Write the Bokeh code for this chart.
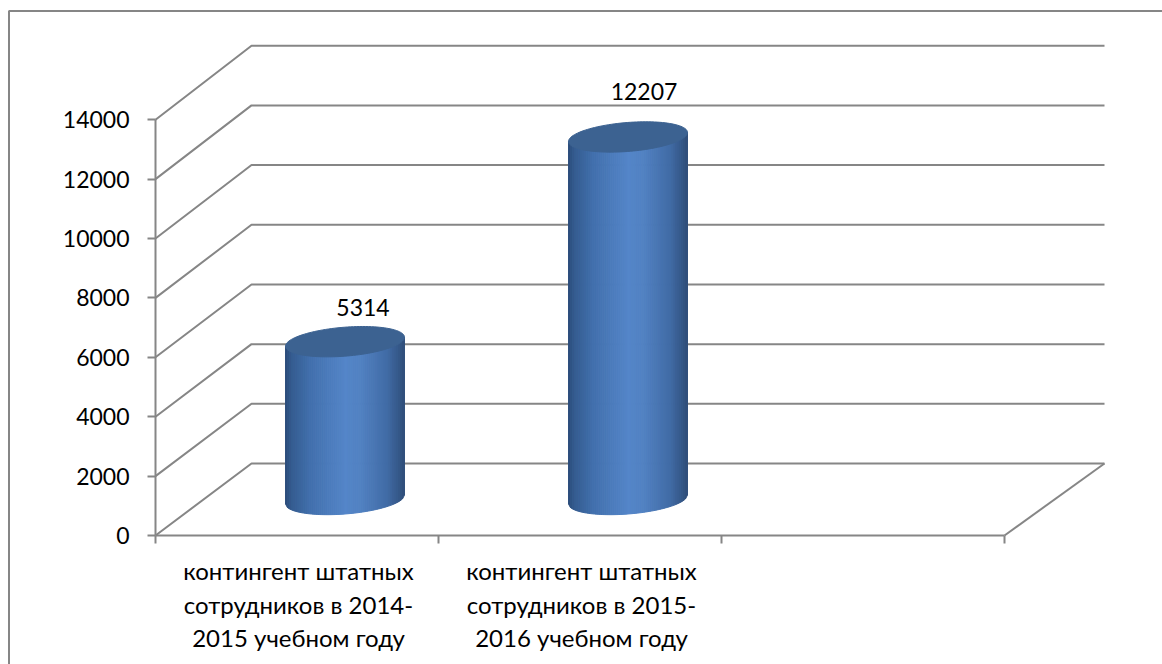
import numpy as np
from bokeh.plotting import figure
from bokeh.models import LinearAxis, FixedTicker, Range1d
from bokeh.core.properties import value
from bokeh.embed import file_html
from bokeh.resources import INLINE

# ---- data ----
categories = ["контингент штатных\nсотрудников в 2014-\n2015 учебном году",
              "контингент штатных\nсотрудников в 2015-\n2016 учебном году"]
values = [5314, 12207]
y_ticks = [0, 2000, 4000, 6000, 8000, 10000, 12000, 14000]
x_slots = [0, 1, 2, 3]

# ---- layout / style ----
W, H = 1162, 664
PX_PER_SLOT = 283.0
PX_PER_VAL = 0.0297
X0_PX, Y0_PX = 155.0, 535.0     # chart origin on the page
DEPTH_X = 96 / PX_PER_SLOT
DEPTH_Y = 72 / PX_PER_VAL
RIGHT_DEPTH_X = 100 / PX_PER_SLOT   # the right-hand edge recedes slightly further
BACK_SCALE = 418 / 416              # back wall is drawn slightly taller than the axis
RX = 59.5 / PX_PER_SLOT
RY = 14.5 / PX_PER_VAL
SHEAR = 4.5 / PX_PER_VAL        # rise from left to right of an ellipse, half
GRAY = "#868686"
FONT = "Lato"
FS = "23px"
FS_CAT = "24px"
TOP_COLOR = "#3c6291"
STOPS_F = [0.0, 0.04, 0.2, 0.5, 0.62, 0.85, 0.96, 1.0]
STOPS_C = [(0x2e, 0x4f, 0x7d), (0x35, 0x5c, 0x90), (0x42, 0x70, 0xad), (0x55, 0x86, 0xc9),
           (0x52, 0x82, 0xc3), (0x41, 0x6c, 0xa6), (0x34, 0x56, 0x85), (0x2f, 0x4c, 0x76)]
N_STRIPS = 60


def px_x(px):
    return (px - X0_PX) / PX_PER_SLOT


def px_y(py):
    return (Y0_PX - py) / PX_PER_VAL


p = figure(width=W, height=H, output_backend="svg", toolbar_location=None,
           x_axis_location=None, y_axis_location=None, min_border=0,
           x_range=Range1d(px_x(0), px_x(W)), y_range=Range1d(px_y(H), px_y(0)),
           background_fill_color="white", border_fill_color="white")
p.outline_line_color = None
p.grid.visible = False

# chart-area border (top and left)
p.line([px_x(8.5), px_x(8.5), px_x(W)], [px_y(H), px_y(10.5), px_y(10.5)],
       line_color=GRAY, line_width=2)

# walls: one bent gridline per tick
for t in y_ticks:
    b = t * BACK_SCALE + DEPTH_Y
    p.line([0, DEPTH_X, x_slots[-1] + RIGHT_DEPTH_X], [t, b, b], line_color=GRAY, line_width=2)
p.line([x_slots[-1], x_slots[-1] + RIGHT_DEPTH_X], [0, DEPTH_Y], line_color=GRAY, line_width=2)

# cylinders
ff = np.linspace(0, 1, N_STRIPS + 1)
cr = np.interp(ff, STOPS_F, [c[0] for c in STOPS_C])
cg = np.interp(ff, STOPS_F, [c[1] for c in STOPS_C])
cb = np.interp(ff, STOPS_F, [c[2] for c in STOPS_C])


def lower_arc(cx, cy, x):
    c = np.clip((x - cx) / RX, -1, 1)
    return cy + SHEAR * c - RY * np.sqrt(1 - c * c)


for i, v in enumerate(values):
    cx = i + 0.5 + DEPTH_X / 2
    base = DEPTH_Y / 2
    top = v + DEPTH_Y / 2
    xs = cx - RX + 2 * RX * ff
    sx, sy, col = [], [], []
    for k in range(N_STRIPS):
        xa, xb = xs[k], xs[k + 1]
        sx.append([xa, xb, xb, xa])
        sy.append([lower_arc(cx, base, xa), lower_arc(cx, base, xb),
                   top + SHEAR * ((xb - cx) / RX), top + SHEAR * ((xa - cx) / RX)])
        col.append("#%02x%02x%02x" % (int(cr[k]), int(cg[k]), int(cb[k])))
    p.patches(sx, sy, fill_color=col, line_color=col, line_width=1)
    t = np.linspace(0, 2 * np.pi, 120)
    p.patch(cx + RX * np.cos(t), top + SHEAR * np.cos(t) + RY * np.sin(t),
            fill_color=TOP_COLOR, line_color=TOP_COLOR, line_width=1)

# value labels
LABEL_DX = [18 / PX_PER_SLOT, 16 / PX_PER_SLOT]
LABEL_DY = [34 / PX_PER_VAL, 45 / PX_PER_VAL]
for i, v in enumerate(values):
    p.text([i + 0.5 + DEPTH_X / 2 + LABEL_DX[i]], [v + DEPTH_Y / 2 + LABEL_DY[i]], text=[str(v)],
           text_font=value(FONT), text_font_size=FS, text_color="black",
           text_align="center", text_baseline="middle")

# category labels, one text per line
LINE_Y_PX = [570, 603.5, 637]
CAT_DX = 1.5 / PX_PER_SLOT
for i, c in enumerate(categories):
    for ln, py in zip(c.split("\n"), LINE_Y_PX):
        p.text([i + 0.5 + CAT_DX], [px_y(py)], text=[ln], text_font=value(FONT), text_font_size=FS_CAT,
               text_color="black", text_align="center", text_baseline="middle")

# axes
ya = LinearAxis(ticker=FixedTicker(ticks=y_ticks), fixed_location=0, bounds=(0, y_ticks[-1]),
                axis_line_color=GRAY, axis_line_width=2, major_tick_line_color=GRAY,
                major_tick_line_width=2, major_tick_in=0, major_tick_out=8,
                minor_tick_line_color=None, major_label_standoff=18,
                major_label_text_font=FONT, major_label_text_font_size=FS,
                major_label_text_color="black")
ya.formatter.use_scientific = False
p.add_layout(ya, "left")
xa_ = LinearAxis(ticker=FixedTicker(ticks=x_slots), fixed_location=0, bounds=(0, x_slots[-1]),
                 axis_line_color=GRAY, axis_line_width=2, major_tick_line_color=GRAY,
                 major_tick_line_width=2, major_tick_in=0, major_tick_out=8,
                 minor_tick_line_color=None,
                 major_label_overrides={s: "" for s in x_slots})
p.add_layout(xa_, "below")

open("out.html", "w").write(file_html(p, INLINE))
